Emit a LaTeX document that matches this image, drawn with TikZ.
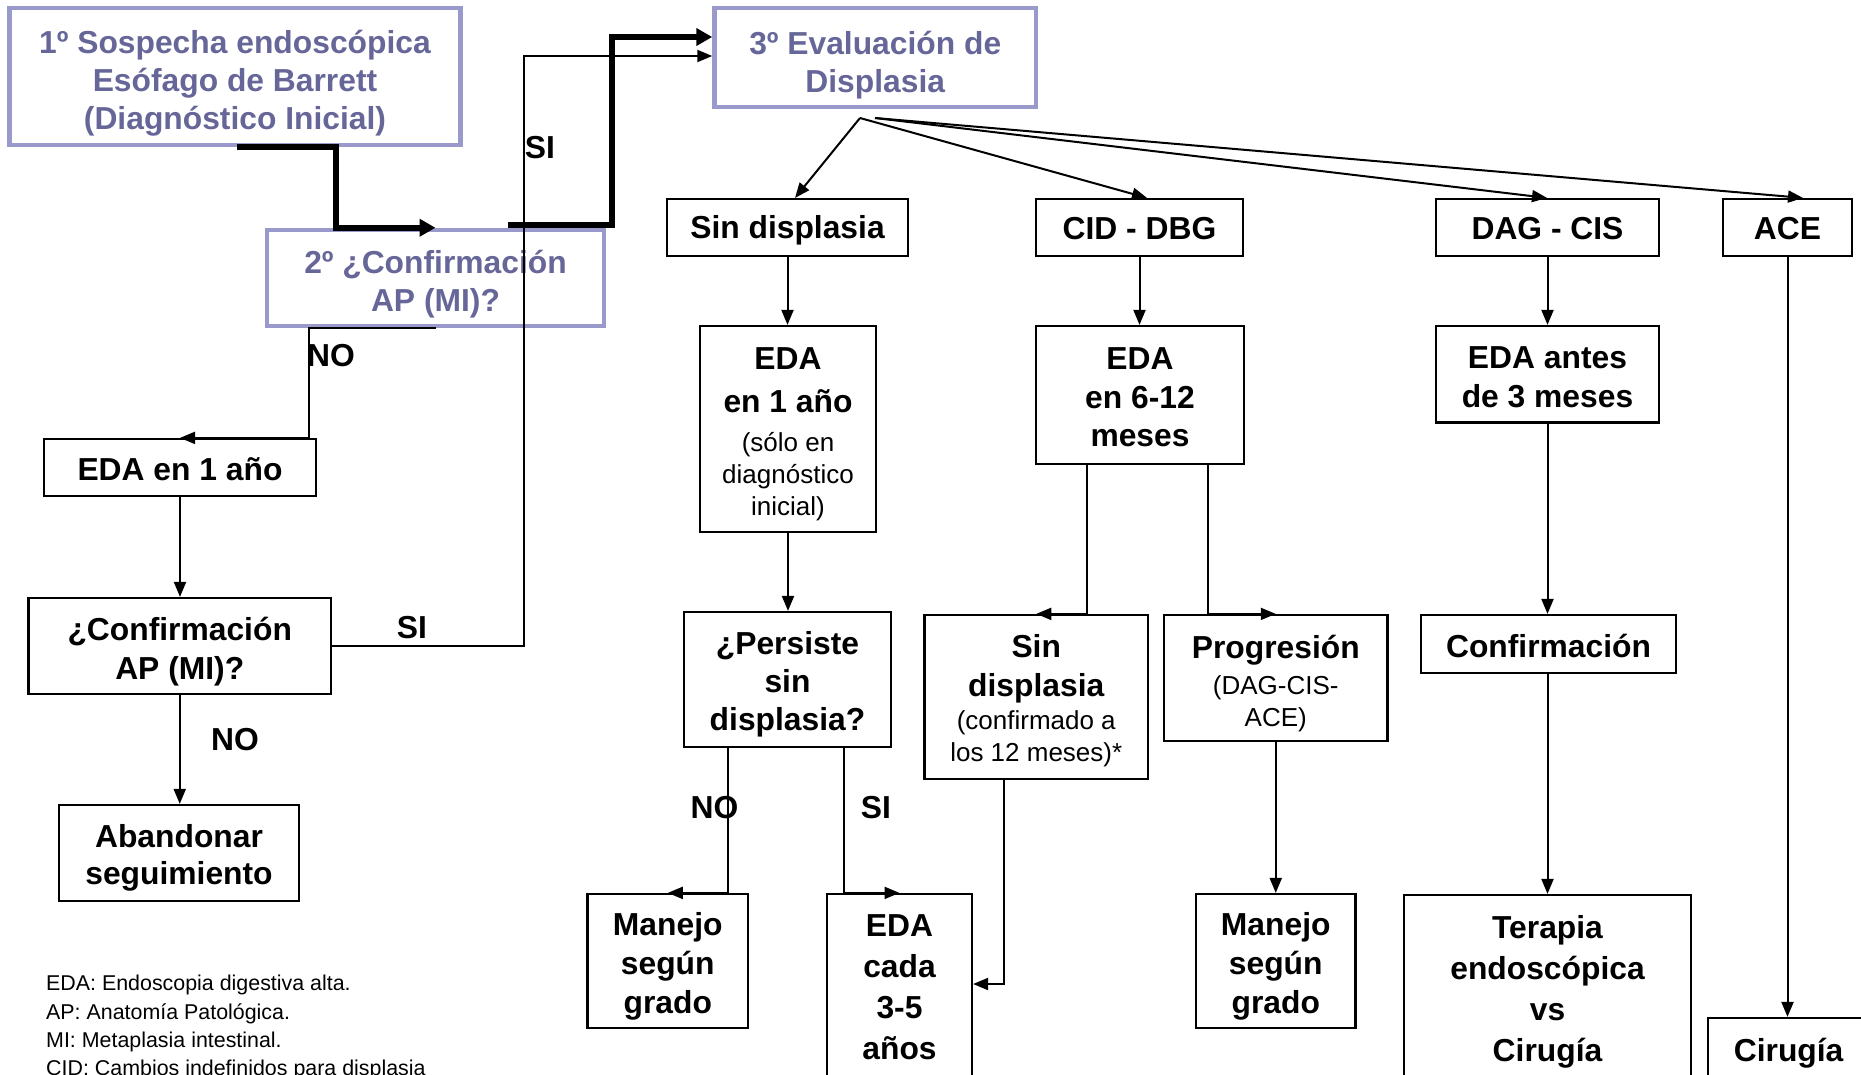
\documentclass[tikz,border=0pt]{standalone}
\usepackage{fontspec}
\setmainfont{Liberation Sans}
\usetikzlibrary{arrows.meta,calc}
\definecolor{ptext}{RGB}{102,102,153}
\definecolor{pborder}{RGB}{153,153,204}
\newcommand\rgf{\mdseries\fontsize{26}{32}\selectfont}
\newcommand\bdf[1]{\bfseries\fontsize{31.8}{#1}\selectfont}
\newcommand\tp[1]{\rule{0pt}{#1pt}}
\newcommand\bt[1]{\rule[-#1pt]{0pt}{#1pt}}
\begin{document}
\begin{tikzpicture}[x=1pt,y=-1pt,
  pbox/.style={draw=pborder,line width=4.5pt,text=ptext,align=center,inner sep=0pt},
  bbox/.style={draw=black,line width=2.2pt,align=center,inner sep=0pt},
  arr/.style={draw=black,line width=2pt,-{Triangle[length=15pt,width=12pt]}},
  thk/.style={draw=black,line width=6pt,-{Triangle[length=16pt,width=17pt]}},
  lbl/.style={font=\bdf{38},inner sep=0pt},
  legend/.style={font=\mdseries\fontsize{21.4}{28.3}\selectfont,align=left,inner sep=0pt,anchor=north west}]
\useasboundingbox (0,0) rectangle (1861,1074);
\begin{scope}
\clip (0,0) rectangle (1861,1074);
% purple boxes
\node[pbox,font=\bdf{38},minimum width=451pt,minimum height=137pt] (box1) at (235,76.5)
  {\tp{36}1º Sospecha endoscópica\\Esófago de Barrett\\(Diagnóstico Inicial)\bt{7}};
\node[pbox,font=\bdf{38},minimum width=337pt,minimum height=96pt] (box2) at (435.5,278)
  {\tp{36}2º ¿Confirmación\\AP (MI)?\bt{7}};
\node[pbox,font=\bdf{38},minimum width=321.5pt,minimum height=99pt] (box3) at (875.25,57.5)
  {\tp{38.4}3º Evaluación de\\Displasia\bt{7}};
% left column
\node[bbox,font=\bdf{38},minimum width=272pt,minimum height=57pt] (eda1l) at (180,467.5)
  {\tp{32}EDA en 1 año\bt{7}};
\node[bbox,font=\bdf{39},minimum width=302.5pt,minimum height=96pt] (confl) at (179.75,646)
  {\tp{35}¿Confirmación\\AP (MI)?\bt{7}};
\node[bbox,font=\bdf{37},minimum width=240pt,minimum height=96pt] (abandon) at (179,853)
  {\tp{32}Abandonar\\seguimiento\bt{7}};
% row of categories
\node[bbox,font=\bdf{38},minimum width=241pt,minimum height=57pt] (sindisp) at (787.5,227.5)
  {\tp{28}Sin displasia\bt{7}};
\node[bbox,font=\bdf{38},minimum width=207pt,minimum height=57pt] (ciddbg) at (1139.5,227.5)
  {\tp{31}CID - DBG\bt{7}};
\node[bbox,font=\bdf{38},minimum width=223pt,minimum height=57pt] (dagcis) at (1547.5,227.5)
  {\tp{31}DAG - CIS\bt{7}};
\node[bbox,font=\bdf{38},minimum width=129pt,minimum height=57pt] (ace) at (1787.5,227.5)
  {\tp{31}ACE\bt{7}};
% column 2
\node[bbox,font=\bdf{32},minimum width=176pt,minimum height=206pt] (eda1) at (788,429)
  {\tp{33.5}EDA\\[11pt]en 1 año\\[7.3pt]{\rgf (sólo en}\\{\rgf diagnóstico}\\{\rgf inicial)\bt{7}}};
\node[bbox,font=\bdf{38.3},minimum width=207pt,minimum height=135pt] (persiste) at (787.5,679.5)
  {\tp{32.6}¿Persiste\\sin\\displasia?\bt{7}};
\node[bbox,font=\bdf{38.7},minimum width=160.5pt,minimum height=134pt] (manejo1) at (667.75,961)
  {\tp{33.6}Manejo\\según\\grado\bt{7}};
\node[bbox,font=\bdf{41},minimum width=145pt,minimum height=200pt] (edacada) at (899.5,994)
  {\tp{30}EDA\\cada\\3-5\\años\bt{23}};
% column 3
\node[bbox,font=\bdf{38.35},minimum width=208pt,minimum height=138pt] (eda612) at (1140,395)
  {\tp{33.3}EDA\\en 6-12\\meses\bt{7}};
\node[bbox,font=\bdf{32},minimum width=223.5pt,minimum height=164pt] (sindisp2) at (1036.25,697)
  {\tp{32.4}Sin\\[6.3pt]displasia\\[1.7pt]{\rgf (confirmado a}\\{\rgf los 12 meses)*\bt{7}}};
\node[bbox,font=\bdf{32},minimum width=223.5pt,minimum height=126pt] (progresion) at (1275.75,678)
  {\tp{35.9}Progresión\\[3.9pt]{\rgf (DAG-CIS-}\\{\rgf ACE)\bt{7}}};
\node[bbox,font=\bdf{38.7},minimum width=159.5pt,minimum height=134pt] (manejo2) at (1275.75,961)
  {\tp{33.6}Manejo\\según\\grado\bt{7}};
% column 4
\node[bbox,font=\bdf{38.2},minimum width=223pt,minimum height=96.5pt] (edaantes) at (1547.5,374.25)
  {\tp{34.3}EDA antes\\de 3 meses\bt{7}};
\node[bbox,font=\bdf{38},minimum width=255pt,minimum height=58pt] (confirm) at (1548.5,644)
  {\tp{33}Confirmación\bt{7}};
\node[bbox,font=\bdf{41},minimum width=287pt,minimum height=200pt] (terapia) at (1547.5,995)
  {\tp{30}Terapia\\endoscópica\\vs\\Cirugía\bt{20}};
\node[bbox,font=\bdf{38},minimum width=161.2pt,minimum height=80pt] (cirugia) at (1788.6,1058)
  {\tp{30}Cirugía\bt{24}};
% labels
\node[lbl] (siA) at (412,628) {SI};
\node[lbl] (siB) at (540,148) {SI};
\node[lbl] (noA) at (331,356) {NO};
\node[lbl] (noB) at (235,739.5) {NO};
\node[lbl] (noC) at (714.5,808) {NO};
\node[lbl] (siC) at (876,808) {SI};
% legend
\node[legend] (leg) at (46,975) {EDA: Endoscopia digestiva alta.\\AP: Anatomía Patológica.\\MI: Metaplasia intestinal.\\CID: Cambios indefinidos para displasia};
% thick connectors
\draw[thk] (box1.south -| 237,0) -| (box2.north -| 336,0) -- (box2.north);
\coordinate (t2) at ($(box2.north -| 508,0)+(0,-3)$);
\draw[thk] (t2) -- ++(104,0) |- (box3.west |- 0,37);
% thin connectors, left part
\draw[arr] (confl.east) -- ++(192,0) |- (box3.west |- 0,56);
\draw[arr] (box2.south) -- ++(-127,0) |- (eda1l.north);
\draw[arr] (eda1l.south) -- (eda1l.south |- confl.north);
\draw[arr] (confl.south) -- (confl.south |- abandon.north);
% fan from box 3
\coordinate (fanA) at (860,118);
\coordinate (fanB) at (875,118);
\draw[arr] (fanA) -- (sindisp.north -| 795,0);
\draw[arr] (fanA) -- (ciddbg.north -| 1147,0);
\draw[arr] (fanB) -- (dagcis.north -| 1547,0);
\draw[arr] (fanB) -- (ace.north -| 1803,0);
% column 2
\draw[arr] (sindisp.south) -- (sindisp.south |- eda1.north);
\draw[arr] (eda1.south) -- (eda1.south |- persiste.north);
\draw[arr] (persiste.south -| 727.5,0) |- (manejo1.north);
\draw[arr] (persiste.south -| 844,0) |- (edacada.north);
% column 3
\draw[arr] (ciddbg.south) -- (ciddbg.south |- eda612.north);
\draw[arr] (eda612.south -| 1087,0) |- (sindisp2.north);
\draw[arr] (eda612.south -| 1208,0) |- (progresion.north);
\draw[arr] (sindisp2.south -| 1004,0) |- (edacada.east |- 0,984);
\draw[arr] (progresion.south) -- (manejo2.north);
% column 4
\draw[arr] (dagcis.south) -- (dagcis.south |- edaantes.north);
\draw[arr] (edaantes.south) -- (edaantes.south |- confirm.north);
\draw[arr] (confirm.south -| edaantes.south) -- (edaantes.south |- terapia.north);
\draw[arr] (ace.south) -- (ace.south |- cirugia.north);
\end{scope}
\end{tikzpicture}
\end{document}
